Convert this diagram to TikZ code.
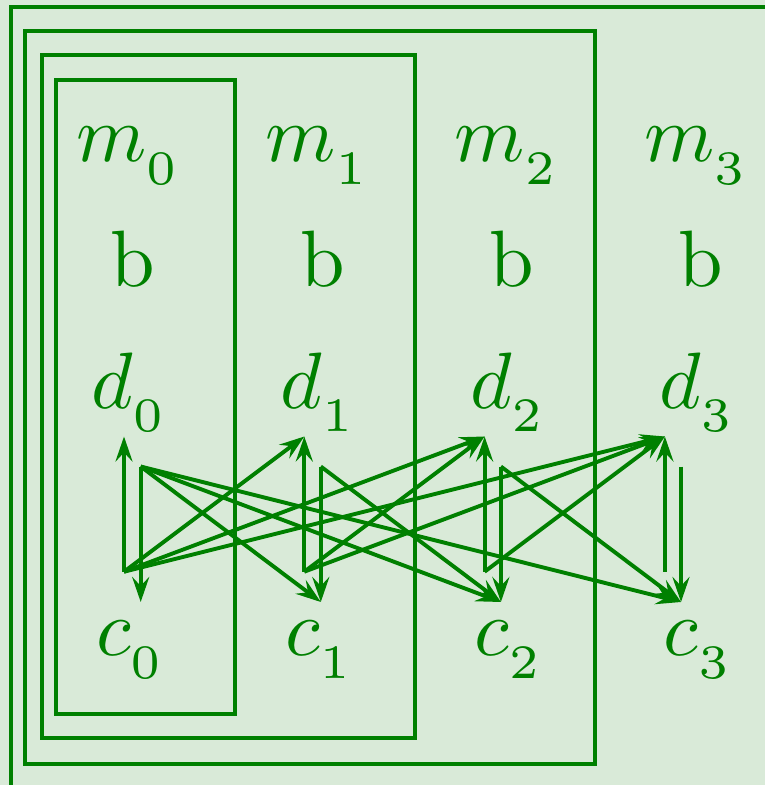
\documentclass[tikz,border=0pt]{standalone}
\usetikzlibrary{arrows.meta}
\DeclareMathSizes{10}{10}{6}{5}
\definecolor{dg}{RGB}{0,128,0}
\definecolor{bgc}{RGB}{217,234,216}
\newcommand{\lsub}[1]{_{\lower 1.4pt\hbox{$\scriptstyle #1$}}}
\tikzset{
  lbl/.style={anchor=base,inner sep=0pt,text=dg,font=\fontsize{10}{12}\selectfont,scale=8},
  frame/.style={draw=dg,line width=4pt},
  arr/.style={draw=dg,line width=3.9pt,-{Stealth[length=25pt,width=17pt,inset=9pt]}}
}
\begin{document}
\begin{tikzpicture}[x=1pt,y=-1pt]
\useasboundingbox (0,0) rectangle (765,785);
\fill[bgc] (0,0) rectangle (765,785);
\clip (0,0) rectangle (765,785);
% frames
\draw[frame] (11,6.7) rectangle (800,820);
\draw[frame] (25.3,31.3) rectangle (594.7,763.7);
\draw[frame] (41.7,54.7) rectangle (415,738);
\draw[frame] (56,80.3) rectangle (235.3,713.8);
% labels
\foreach \i in {0,1,2,3}{
  \pgfmathsetmacro{\xx}{124+189.3*\i}
  \node[lbl] (m\i) at (\xx+4,161) {$m\lsub{\i}$};
  \node[lbl] (b\i) at (\xx+9,286) {b};
  \node[lbl] (d\i) at (\xx+5,408.5) {$d\lsub{\i}$};
  \node[lbl] (c\i) at (\xx+6,655) {$c\lsub{\i}$};
}
% arrow end points
\foreach \i in {0,1,2,3}{
  \pgfmathsetmacro{\xu}{124+180.3*\i}
  \pgfmathsetmacro{\xd}{140.7+180.1*\i}
  \coordinate (ub\i) at (\xu,571.7);
  \coordinate (ut\i) at (\xu,436.5);
  \coordinate (dt\i) at (\xd,466.5);
  \coordinate (db\i) at (\xd,602);
}
% up arrows c_i -> d_j, j >= i
\foreach \i/\j in {0/0,0/1,0/2,0/3,1/1,1/2,1/3,2/2,2/3,3/3}{
  \draw[arr] (ub\i) -- (ut\j);
}
% down arrows d_i -> c_j
\foreach \i/\j in {0/0,0/1,0/2,0/3,1/1,1/2,2/2,2/3,3/3}{
  \draw[arr] (dt\i) -- (db\j);
}
\end{tikzpicture}
\end{document}
